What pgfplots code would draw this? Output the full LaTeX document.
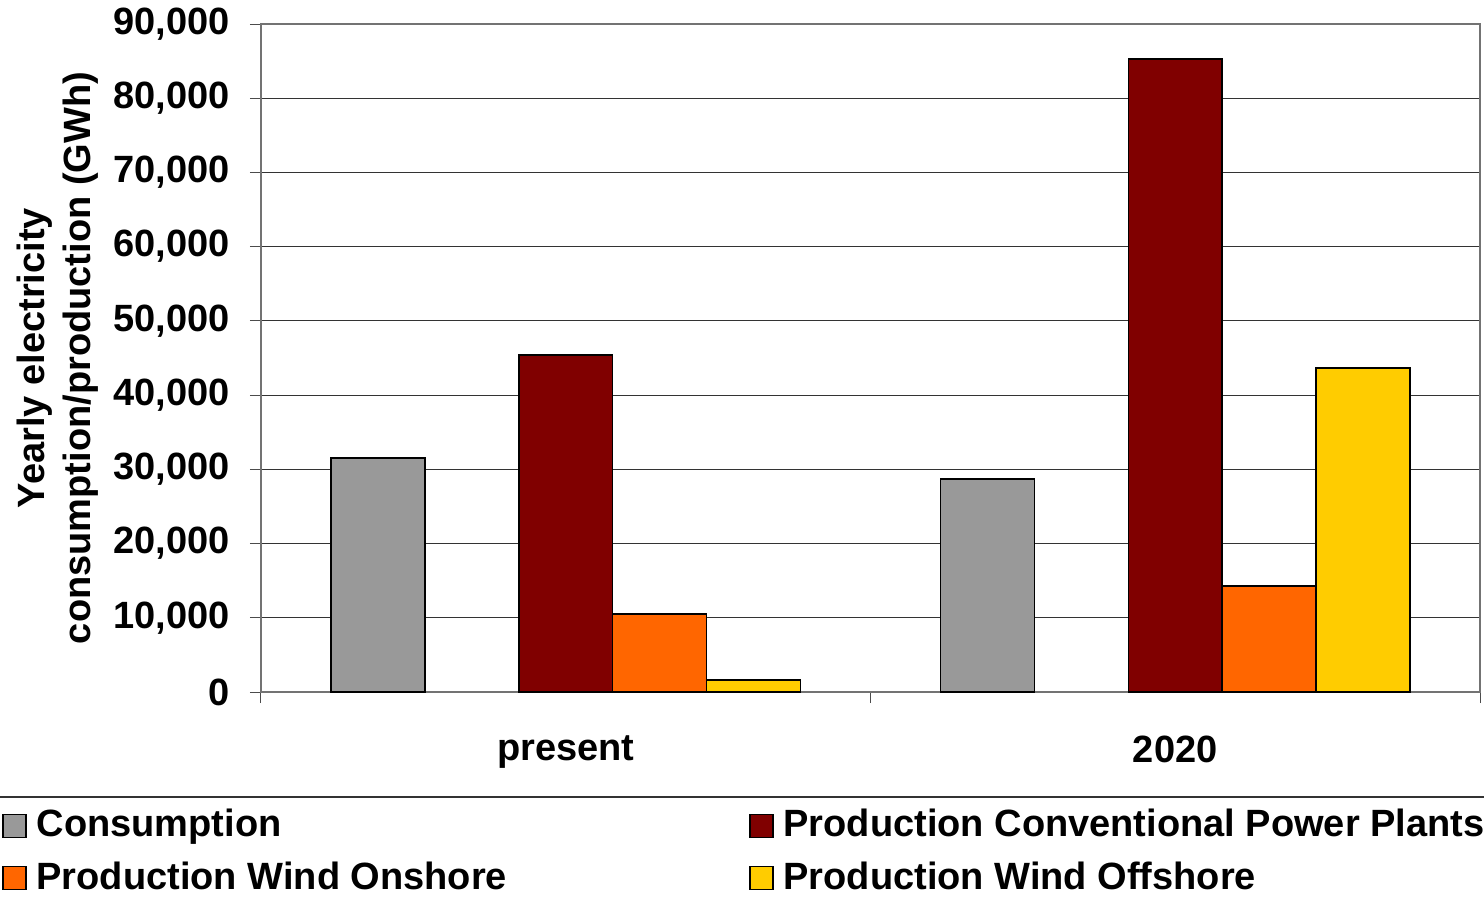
\documentclass[border=0pt]{standalone}
\usepackage{fontspec}
\setmainfont{Liberation Sans}
\usepackage{pgfplots}
\pgfplotsset{compat=1.18}

\definecolor{cons}{HTML}{999999}
\definecolor{conv}{HTML}{800000}
\definecolor{onsh}{HTML}{FF6600}
\definecolor{offs}{HTML}{FFCC00}

% bar width in axis units (one slot of five per category)
\def\bw{0.1542}

\begin{document}
\fontsize{19}{23}\selectfont\bfseries
\begin{tikzpicture}
\useasboundingbox (-130.5pt,-104pt) rectangle (611.5pt,346pt);
\begin{axis}[
    at={(0,0)}, anchor=south west,
    scale only axis,
    width=609.5pt, height=334pt,
    ybar,
    bar width=\bw,
    xmin=-0.5, xmax=1.5,
    ymin=0, ymax=90000,
    xtick={-0.5,0.5,1.5},
    x tick label as interval,
    xticklabels={present,2020},
    ytick={0,10000,...,90000},
    scaled y ticks=false,
    /pgf/number format/.cd, 1000 sep={,}, assume math mode=true,
    /pgfplots/.cd,
    ymajorgrids=true,
    grid style={black!80, line width=0.5pt},
    axis line style={black!55, line width=0.6pt},
    tick align=outside,
    major tick length=5.5pt,
    tick style={black!70, line width=0.5pt},
    xtick pos=bottom, ytick pos=left,
    yticklabel style={xshift=-3.5pt},
    xticklabel style={yshift=-10pt},
    ylabel={Yearly electricity\\consumption/production (GWh)},
    ylabel style={align=center, at={(axis description cs:-0.1669,0.5)}, anchor=center},
    legend columns=2,
    legend cell align=left,
    legend style={draw=none, at={(rel axis cs:-0.2127,-0.169)}, anchor=north west,
        /tikz/every even column/.append style={column sep=119pt},
        /tikz/every odd column/.append style={column sep=3pt},
        row sep=5.5pt, inner sep=0pt},
    legend image code/.code={\draw[#1, line width=0.75pt] (0pt,-5.75pt) rectangle (11.5pt,5.75pt);},
    every axis plot/.append style={draw=black, line width=0.75pt},
]
\addplot[fill=cons, bar shift=-2*\bw] coordinates {(0,31500) (1,28700)};
\addplot[fill=conv, bar shift=0] coordinates {(0,45400) (1,85300)};
\addplot[fill=onsh, bar shift=\bw] coordinates {(0,10500) (1,14300)};
\addplot[fill=offs, bar shift=2*\bw] coordinates {(0,1600) (1,43650)};
\legend{Consumption,Production Conventional Power Plants,Production Wind Onshore,Production Wind Offshore}
\draw[black!55, line width=0.6pt] (rel axis cs:1,0) -- (rel axis cs:1,1);
\end{axis}
\draw[black!80, line width=0.6pt] (-130.5pt,-52.5pt) -- (611.5pt,-52.5pt);
\end{tikzpicture}
\end{document}
